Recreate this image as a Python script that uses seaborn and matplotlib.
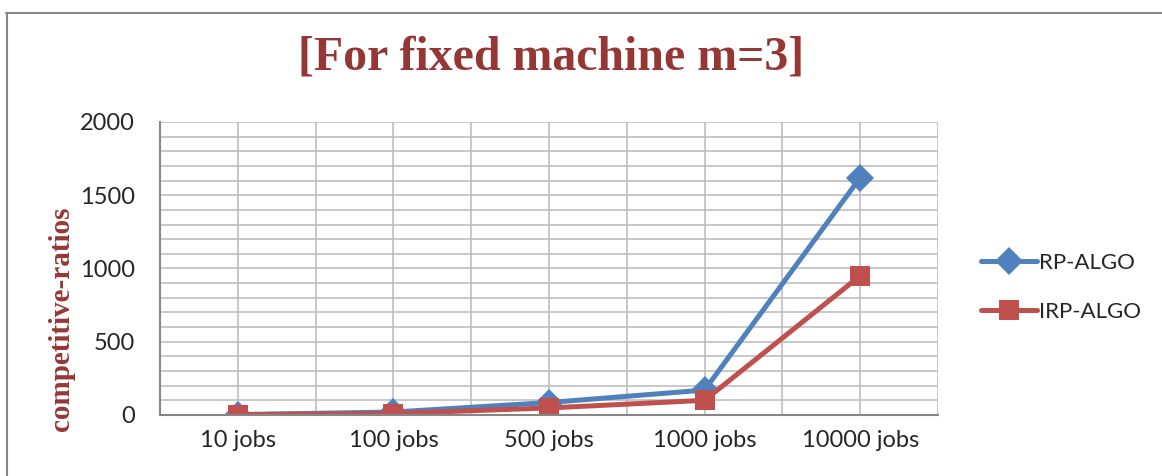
import pandas as pd
import matplotlib.pyplot as plt
import matplotlib.lines as mlines
import seaborn as sns
from matplotlib.ticker import MultipleLocator

categories = ["10 jobs", "100 jobs", "500 jobs", "1000 jobs", "10000 jobs"]
rp_algo = [3, 20, 85, 170, 1620]
irp_algo = [2, 10, 48, 100, 950]
series_names = ["RP-ALGO", "IRP-ALGO"]

df = pd.DataFrame({
    "jobs": categories * 2,
    "ratio": rp_algo + irp_algo,
    "algo": [series_names[0]] * len(categories) + [series_names[1]] * len(categories),
})

sns.set_style("white")
plt.rcParams['font.family'] = ['Lato', 'DejaVu Sans']

fig = plt.figure(figsize=(11.62, 4.76), dpi=100)
ax = fig.add_axes([0.1377, 0.1282, 0.8072 - 0.1377, 0.7437 - 0.1282])

palette = {"RP-ALGO": "#4F81BD", "IRP-ALGO": "#C0504D"}
markers = {"RP-ALGO": "D", "IRP-ALGO": "s"}
sns.lineplot(data=df, x="jobs", y="ratio", hue="algo", style="algo", palette=palette,
             markers=markers, dashes=False, linewidth=3.6, markersize=14,
             markeredgewidth=0, ax=ax, legend=False, sort=False)

ax.set_xlim(-0.5, 4.5)
ax.set_ylim(0, 2000)
ax.yaxis.set_major_locator(MultipleLocator(500))
ax.yaxis.set_minor_locator(MultipleLocator(100))
ax.xaxis.set_minor_locator(MultipleLocator(0.5))
ax.grid(True, which="both", color="#BFBFBF", linewidth=1.2)
ax.set_axisbelow(True)
ax.set_xticks(range(len(categories)))
ax.set_xticklabels(categories)
ax.tick_params(axis="both", which="both", length=0, labelsize=17, pad=11)
ax.tick_params(axis="y", pad=18)
for side in ["top", "right"]:
    ax.spines[side].set_visible(False)
for side in ["left", "bottom"]:
    ax.spines[side].set_color("#868686")
    ax.spines[side].set_linewidth(1.5)
ax.set_xlabel("")
ax.set_ylabel("competitive-ratios", family="Liberation Serif", fontweight="bold",
              fontsize=21, color="#953735")
ax.yaxis.set_label_coords(-0.109, 0.33)

fig.text(0.474, 0.88, "[For fixed machine m=3]", family="Liberation Serif",
         fontweight="bold", fontsize=34.5, color="#953735", ha="center", va="center")

handles = [mlines.Line2D([], [], color=palette[n], marker=markers[n], linewidth=3.6,
                         markersize=14, markeredgewidth=0, label=n) for n in series_names]
fig.legend(handles=handles, loc="center left", bbox_to_anchor=(0.827, 0.396), frameon=False,
           fontsize=16, handlelength=2.5, handletextpad=0.1, labelspacing=1.3)

# outer chart border
fig.add_artist(mlines.Line2D([6 / 1162, 1], [1 - 13 / 476, 1 - 13 / 476],
                             transform=fig.transFigure, color="#868686", linewidth=1.5))
fig.add_artist(mlines.Line2D([7 / 1162, 7 / 1162], [0, 1 - 13 / 476],
                             transform=fig.transFigure, color="#868686", linewidth=1.5))

fig.savefig("out.png", dpi=100)
